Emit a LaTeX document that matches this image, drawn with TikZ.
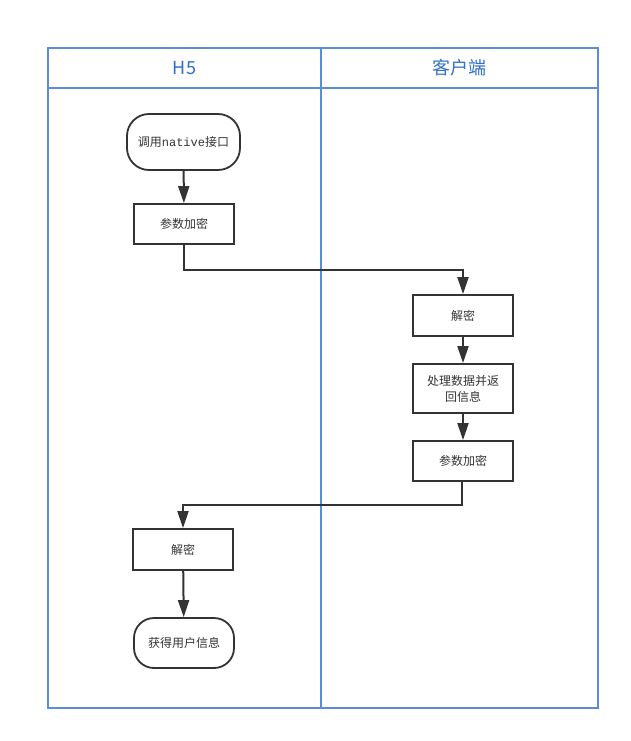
\documentclass[tikz,border=0pt]{standalone}
\usepackage{fontspec}
\setmainfont{Noto Sans CJK SC}
\newfontfamily\monofnt{Liberation Mono}
\usetikzlibrary{arrows.meta}
\definecolor{lane}{HTML}{5B8DD6}
\definecolor{lanetext}{HTML}{2F6EC9}
\definecolor{ink}{HTML}{333333}
\tikzset{
  procbox/.style={draw=ink, line width=1.8pt, minimum width=100pt, minimum height=40pt, inner sep=0pt, align=center, font=\fontsize{12pt}{16pt}\selectfont, text=ink},
  termbox/.style={procbox, rounded corners=22pt},
  flow/.style={draw=ink, line width=2pt, -{Triangle[length=17pt,width=11pt]}},
  lanehead/.style={font=\fontsize{18pt}{20pt}\selectfont, text=lanetext}
}
\begin{document}
\begin{tikzpicture}[x=1pt,y=-1pt]
\useasboundingbox (0,0) rectangle (630,741);
% lanes
\draw[lane, line width=1.2pt] (48,48) rectangle (598,708);
\draw[lane, line width=1.2pt] (48,88) -- (598,88);
\draw[lane, line width=1.4pt] (321,48) -- (321,708);
\node[lanehead] (h1) at (184.5,68) {H5};
\node[lanehead] (h2) at (459.5,68) {客户端};
% nodes
\node[termbox, minimum width=113pt, minimum height=56pt] (n1) at (183.5,142) {调用{\monofnt native}接口};
\node[procbox] (n2) at (184,224) {参数加密};
\node[procbox, minimum height=41pt] (n3) at (463,315.5) {解密};
\node[procbox, minimum height=49pt] (n4) at (463,388.5) {处理数据并返\\回信息};
\node[procbox] (n5) at (463,461) {参数加密};
\node[procbox, minimum height=41pt] (n6) at (183,549.5) {解密};
\node[termbox, minimum height=50pt, rounded corners=20pt] (n7) at (184,643) {获得用户信息};
% connectors
\draw[flow] (n1) -- (n2);
\draw[flow] (n2.south) -- ++(0,25) -| (n3.north);
\draw[flow] (n3) -- (n4);
\draw[flow] (n4) -- (n5);
\draw[flow] (n5.south -| 462,0) -- (462,505) -| (n6.north);
\draw[flow] (n6) -- (n7);
\end{tikzpicture}
\end{document}
